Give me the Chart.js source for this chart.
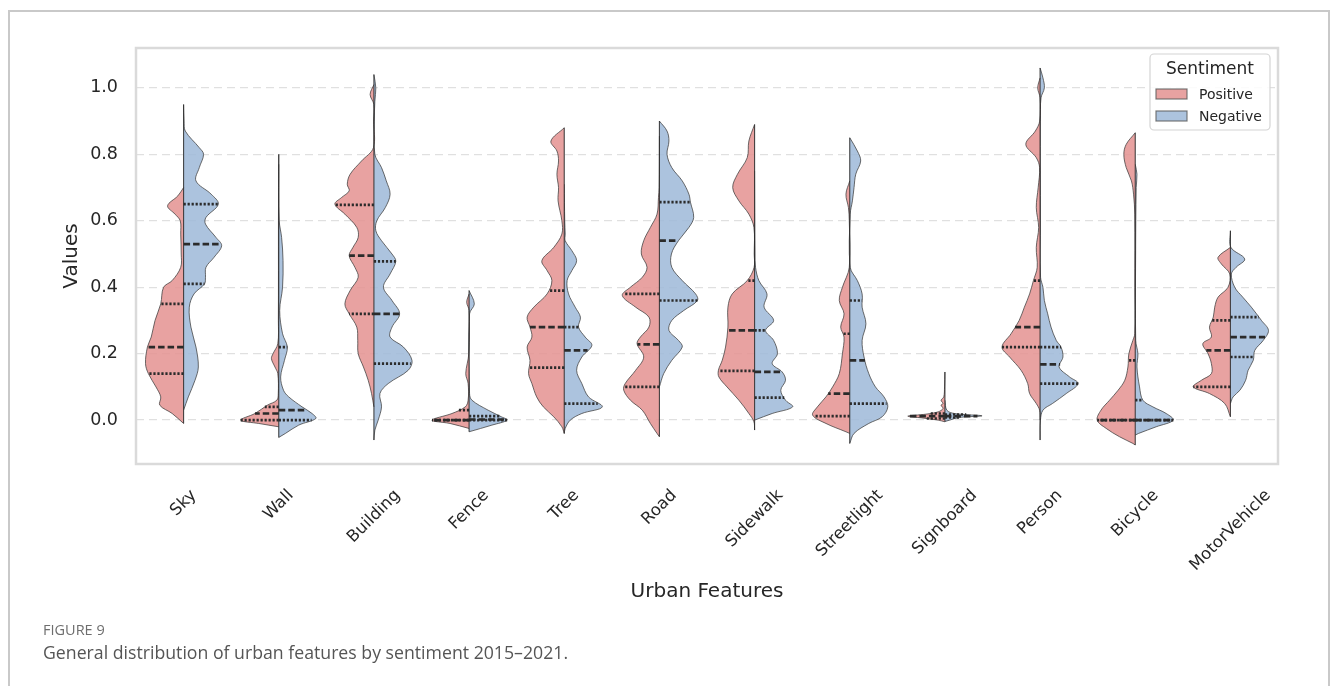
<!DOCTYPE html>
<html>
<head>
<meta charset="utf-8">
<script src="https://cdn.jsdelivr.net/npm/chart.js@4.4.1/dist/chart.umd.min.js"></script>
<style>
  html, body { margin: 0; padding: 0; background: #fff; width: 1333px; height: 686px; overflow: hidden; }
  #figure { position: absolute; left: 8px; top: 10px; width: 1322px; height: 700px; border: 2px solid #c9c9c9; border-bottom: none; box-sizing: border-box; }
  #chart { position: absolute; left: 0; top: 0; }
  .caption-label { position: absolute; left: 43px; top: 621px; font-family: "Open Sans", "Noto Sans", sans-serif; font-size: 14.5px; line-height: 18px; color: #6e6e6e; }
  .caption-text { position: absolute; left: 43px; top: 641px; font-family: "Open Sans", "Noto Sans", sans-serif; font-size: 17.7px; line-height: 23px; color: #555; }
</style>
</head>
<body>
<div id="figure"></div>
<canvas id="chart" width="1333" height="686"></canvas>
<div class="caption-label">FIGURE 9</div>
<div class="caption-text">General distribution of urban features by sentiment 2015–2021.</div>
<script>
// Urban feature categories on the x axis
const categories = ['Sky', 'Wall', 'Building', 'Fence', 'Tree', 'Road', 'Sidewalk', 'Streetlight', 'Signboard', 'Person', 'Bicycle', 'MotorVehicle'];
const sentiments = ['Positive', 'Negative'];
const yTicks = [0.0, 0.2, 0.4, 0.6, 0.8, 1.0];

// Density outlines: [value, half-width as a fraction of the category slot], from top to bottom
const skyPos = [[0.70,0],[0.675,0.06],[0.645,0.168],[0.62,0.09],[0.60,0.035],[0.56,0.03],[0.50,0.025],[0.46,0.03],[0.42,0.12],[0.40,0.21],[0.35,0.24],[0.30,0.30],[0.25,0.34],[0.22,0.38],[0.17,0.40],[0.14,0.37],[0.10,0.29],[0.07,0.24],[0.045,0.25],[0.02,0.12],[-0.01,0]];
const skyNeg = [[0.95,0],[0.90,0.005],[0.87,0.018],[0.82,0.165],[0.80,0.21],[0.76,0.165],[0.72,0.13],[0.68,0.29],[0.65,0.365],[0.61,0.235],[0.59,0.23],[0.55,0.34],[0.525,0.40],[0.49,0.32],[0.46,0.235],[0.43,0.23],[0.41,0.22],[0.38,0.11],[0.34,0.06],[0.28,0.077],[0.22,0.13],[0.16,0.155],[0.12,0.12],[0.07,0.05],[0.03,0]];
const wallPos = [[0.80,0],[0.60,0.003],[0.30,0.004],[0.23,0.01],[0.20,0.06],[0.185,0.077],[0.16,0.04],[0.14,0.01],[0.08,0.005],[0.06,0.02],[0.045,0.12],[0.02,0.25],[0.0,0.40],[-0.01,0.21],[-0.02,0]];
const wallNeg = [[0.77,0],[0.60,0.005],[0.55,0.03],[0.48,0.045],[0.40,0.04],[0.33,0.01],[0.26,0.04],[0.22,0.09],[0.18,0.06],[0.13,0.02],[0.09,0.05],[0.07,0.105],[0.04,0.245],[0.02,0.35],[0.005,0.39],[-0.015,0.21],[-0.04,0.07],[-0.052,0]];
const buildingPos = [[1.01,0],[0.98,0.04],[0.95,0],[0.90,0.003],[0.82,0.005],[0.78,0.13],[0.74,0.25],[0.71,0.28],[0.69,0.26],[0.67,0.34],[0.65,0.41],[0.62,0.305],[0.58,0.18],[0.55,0.165],[0.52,0.22],[0.495,0.26],[0.46,0.20],[0.43,0.165],[0.39,0.25],[0.35,0.305],[0.32,0.26],[0.28,0.18],[0.24,0.17],[0.20,0.165],[0.16,0.11],[0.12,0.06],[0.08,0.025],[0.04,0]];
const buildingNeg = [[1.04,0],[1.0,0.02],[0.96,0.01],[0.90,0.004],[0.80,0.01],[0.76,0.08],[0.72,0.13],[0.68,0.17],[0.64,0.12],[0.60,0.03],[0.57,0.02],[0.54,0.08],[0.50,0.19],[0.478,0.23],[0.44,0.17],[0.40,0.10],[0.36,0.19],[0.32,0.27],[0.28,0.19],[0.25,0.17],[0.22,0.31],[0.18,0.40],[0.15,0.36],[0.11,0.15],[0.08,0.063],[0.04,0.08],[0.0,0.045],[-0.03,0.01],[-0.06,0]];
const fencePos = [[0.38,0],[0.355,0.025],[0.33,0],[0.20,0.003],[0.14,0.035],[0.11,0.01],[0.06,0.01],[0.04,0.04],[0.02,0.18],[0.0,0.39],[-0.01,0.2],[-0.025,0]];
const fenceNeg = [[0.39,0],[0.35,0.055],[0.32,0.005],[0.08,0.005],[0.06,0.03],[0.03,0.2],[0.01,0.34],[0.0,0.40],[-0.015,0.24],[-0.035,0]];
const treePos = [[0.88,0],[0.84,0.14],[0.81,0.077],[0.78,0.06],[0.74,0.077],[0.70,0.06],[0.66,0.065],[0.60,0.025],[0.56,0.025],[0.52,0.11],[0.48,0.235],[0.45,0.18],[0.42,0.13],[0.38,0.18],[0.34,0.32],[0.31,0.39],[0.28,0.36],[0.25,0.34],[0.22,0.39],[0.18,0.36],[0.14,0.375],[0.11,0.34],[0.07,0.29],[0.04,0.22],[0.01,0.11],[-0.02,0.025],[-0.04,0]];
const treeNeg = [[0.71,0],[0.60,0.005],[0.56,0.01],[0.54,0.01],[0.51,0.08],[0.48,0.13],[0.45,0.08],[0.42,0.03],[0.38,0.045],[0.34,0.115],[0.31,0.17],[0.28,0.15],[0.25,0.22],[0.225,0.29],[0.19,0.185],[0.15,0.13],[0.11,0.185],[0.07,0.255],[0.04,0.40],[0.02,0.185],[0.0,0.063],[-0.025,0.01],[-0.04,0]];
const roadPos = [[0.855,0],[0.70,0.003],[0.67,0.01],[0.62,0.025],[0.58,0.095],[0.54,0.165],[0.50,0.19],[0.46,0.13],[0.43,0.18],[0.40,0.305],[0.375,0.39],[0.34,0.25],[0.31,0.11],[0.28,0.11],[0.25,0.2],[0.23,0.235],[0.19,0.165],[0.15,0.25],[0.11,0.36],[0.09,0.375],[0.06,0.305],[0.03,0.18],[-0.01,0.095],[-0.04,0.025],[-0.05,0]];
const roadNeg = [[0.90,0],[0.87,0.08],[0.84,0.1],[0.80,0.08],[0.76,0.13],[0.72,0.24],[0.68,0.31],[0.656,0.326],[0.61,0.36],[0.58,0.31],[0.54,0.2],[0.50,0.126],[0.46,0.13],[0.42,0.24],[0.38,0.38],[0.36,0.40],[0.33,0.256],[0.30,0.13],[0.27,0.1],[0.24,0.2],[0.22,0.24],[0.18,0.13],[0.14,0.045],[0.10,0]];
const sidewalkPos = [[0.89,0],[0.84,0.06],[0.79,0.077],[0.74,0.18],[0.70,0.23],[0.66,0.165],[0.62,0.06],[0.58,0.007],[0.50,0.004],[0.46,0.005],[0.42,0.077],[0.38,0.235],[0.34,0.28],[0.28,0.28],[0.22,0.305],[0.18,0.34],[0.15,0.38],[0.13,0.375],[0.10,0.29],[0.06,0.165],[0.02,0.06],[-0.005,0.007],[-0.03,0]];
const sidewalkNeg = [[0.75,0],[0.50,0.004],[0.46,0.01],[0.42,0.045],[0.38,0.13],[0.34,0.1],[0.30,0.2],[0.27,0.115],[0.24,0.2],[0.20,0.24],[0.17,0.185],[0.145,0.29],[0.12,0.325],[0.09,0.275],[0.06,0.325],[0.04,0.40],[0.02,0.185],[0.0,0]];
const streetlightPos = [[0.72,0],[0.68,0.04],[0.64,0.014],[0.60,0.005],[0.46,0.005],[0.40,0.077],[0.36,0.11],[0.32,0.06],[0.28,0.095],[0.25,0.06],[0.20,0.077],[0.14,0.11],[0.10,0.18],[0.07,0.25],[0.04,0.34],[0.015,0.39],[-0.01,0.25],[-0.035,0.04],[-0.04,0]];
const streetlightNeg = [[0.85,0],[0.81,0.08],[0.78,0.115],[0.74,0.063],[0.70,0.045],[0.66,0.028],[0.62,0.005],[0.46,0.005],[0.42,0.08],[0.38,0.13],[0.34,0.13],[0.29,0.17],[0.24,0.13],[0.19,0.15],[0.14,0.2],[0.10,0.27],[0.07,0.36],[0.04,0.40],[0.01,0.34],[-0.01,0.2],[-0.04,0.045],[-0.07,0]];
const signboardPos = [[0.145,0],[0.10,0.004],[0.07,0.012],[0.06,0.04],[0.05,0.02],[0.045,0.04],[0.035,0.02],[0.025,0.07],[0.018,0.2],[0.012,0.39],[0.006,0.22],[0.0,0.07],[-0.005,0]];
const signboardNeg = [[0.06,0],[0.03,0.02],[0.02,0.1],[0.013,0.39],[0.008,0.15],[0.0,0.05],[-0.004,0]];
const personPos = [[1.03,0],[1.0,0.025],[0.97,0],[0.90,0.004],[0.87,0.05],[0.83,0.15],[0.79,0.04],[0.76,0.005],[0.70,0.02],[0.64,0.04],[0.58,0.015],[0.52,0.04],[0.46,0.03],[0.42,0.07],[0.38,0.11],[0.34,0.165],[0.30,0.22],[0.26,0.305],[0.22,0.40],[0.19,0.32],[0.15,0.2],[0.11,0.13],[0.08,0.11],[0.05,0.04],[0.03,0.005],[0.0,0]];
const personNeg = [[1.06,0],[1.03,0.03],[1.0,0.045],[0.97,0.01],[0.90,0.003],[0.60,0.004],[0.43,0.005],[0.40,0.03],[0.36,0.045],[0.32,0.08],[0.28,0.115],[0.24,0.17],[0.22,0.22],[0.19,0.24],[0.16,0.2],[0.13,0.31],[0.11,0.40],[0.08,0.275],[0.05,0.13],[0.03,0.03],[0.0,0.004],[-0.06,0]];
const bicyclePos = [[0.865,0],[0.83,0.095],[0.80,0.12],[0.76,0.095],[0.72,0.04],[0.68,0.018],[0.62,0.005],[0.40,0.004],[0.26,0.005],[0.24,0.025],[0.20,0.067],[0.16,0.077],[0.12,0.11],[0.09,0.18],[0.06,0.27],[0.03,0.36],[0.0,0.40],[-0.025,0.305],[-0.05,0.165],[-0.07,0.025],[-0.075,0]];
const bicycleNeg = [[0.77,0],[0.74,0.018],[0.70,0.01],[0.50,0.004],[0.24,0.005],[0.20,0.028],[0.16,0.018],[0.10,0.045],[0.06,0.08],[0.04,0.185],[0.02,0.325],[0.0,0.40],[-0.02,0.22],[-0.04,0.035],[-0.045,0]];
const motorVehiclePos = [[0.52,0],[0.49,0.13],[0.47,0.095],[0.44,0.007],[0.40,0.025],[0.37,0.13],[0.34,0.165],[0.31,0.18],[0.28,0.22],[0.25,0.2],[0.23,0.29],[0.20,0.235],[0.17,0.2],[0.14,0.2],[0.12,0.305],[0.10,0.39],[0.08,0.22],[0.05,0.06],[0.01,0]];
const motorVehicleNeg = [[0.57,0],[0.52,0.005],[0.485,0.15],[0.46,0.06],[0.44,0.01],[0.40,0.045],[0.37,0.13],[0.34,0.22],[0.30,0.326],[0.27,0.40],[0.24,0.345],[0.21,0.256],[0.18,0.24],[0.15,0.186],[0.12,0.16],[0.09,0.1],[0.07,0.028],[0.05,0]];

// Quartiles [Q1, median, Q3] per category
const positiveQuartiles = [[0.14,0.22,0.35],[0.0,0.02,0.04],[0.32,0.495,0.648],[0.0,0.0,0.03],[0.158,0.28,0.39],[0.10,0.228,0.38],[0.148,0.27,0.42],[0.012,0.08,0.26],[0.005,0.012,0.02],[0.22,0.28,0.42],[0.0,0.0,0.18],[0.10,0.21,0.30]];
const negativeQuartiles = [[0.41,0.53,0.65],[0.0,0.03,0.22],[0.17,0.32,0.478],[0.0,0.002,0.012],[0.05,0.21,0.28],[0.36,0.54,0.656],[0.068,0.145,0.27],[0.05,0.18,0.36],[0.008,0.012,0.017],[0.11,0.168,0.22],[0.0,0.0,0.06],[0.19,0.25,0.31]];

const positiveProfiles = [skyPos, wallPos, buildingPos, fencePos, treePos, roadPos, sidewalkPos, streetlightPos, signboardPos, personPos, bicyclePos, motorVehiclePos];
const negativeProfiles = [skyNeg, wallNeg, buildingNeg, fenceNeg, treeNeg, roadNeg, sidewalkNeg, streetlightNeg, signboardNeg, personNeg, bicycleNeg, motorVehicleNeg];

const FILL_POS = 'rgba(228,146,144,0.85)';
const FILL_NEG = 'rgba(157,184,216,0.85)';
const EDGE = 'rgba(60,60,60,0.75)';
const TEXT = '#262626';
const FONT = 'DejaVu Sans';

// Half-width of a profile at a given value (linear between outline points)
function widthAt(profile, v) {
  if (v >= profile[0][0]) return profile[0][1];
  for (let k = 1; k < profile.length; k++) {
    const [v0, w0] = profile[k - 1];
    const [v1, w1] = profile[k];
    if (v <= v0 && v >= v1) {
      return v0 === v1 ? Math.max(w0, w1) : w0 + (w1 - w0) * (v0 - v) / (v0 - v1);
    }
  }
  return profile[profile.length - 1][1];
}

const datasets = [];
categories.forEach((name, i) => {
  const halves = [
    { profile: positiveProfiles[i], quart: positiveQuartiles[i], side: -1, fill: FILL_POS },
    { profile: negativeProfiles[i], quart: negativeQuartiles[i], side: 1, fill: FILL_NEG }
  ];
  let top = -Infinity, bottom = Infinity;
  halves.forEach(h => {
    top = Math.max(top, h.profile[0][0]);
    bottom = Math.min(bottom, h.profile[h.profile.length - 1][0]);
    // half violin body
    datasets.push({
      label: name + (h.side < 0 ? ' positive' : ' negative'),
      data: h.profile.map(([v, w]) => ({ x: i + h.side * w, y: v })),
      showLine: true, fill: 'shape', tension: 0.35,
      backgroundColor: h.fill, borderColor: EDGE, borderWidth: 1,
      pointRadius: 0, order: 3
    });
    // quartile lines: dotted Q1/Q3, dashed median
    h.quart.forEach((q, k) => {
      const w = widthAt(h.profile, q);
      datasets.push({
        label: name + ' quartile',
        data: [{ x: i, y: q }, { x: i + h.side * w, y: q }],
        showLine: true, fill: false, tension: 0,
        borderColor: '#2b2b2b', borderWidth: 2.7,
        borderDash: k === 1 ? [6.5, 3] : [2.2, 1.8], borderCapStyle: 'butt',
        pointRadius: 0, order: 1
      });
    });
  });
  // shared centre line of the split violin
  datasets.push({
    label: name + ' centre',
    data: [{ x: i, y: top }, { x: i, y: bottom }],
    showLine: true, fill: false, borderColor: 'rgba(40,40,40,0.85)', borderWidth: 1.1,
    pointRadius: 0, order: 2
  });
});

const extras = {
  id: 'violinExtras',
  afterDatasetsDraw(chart) {
    const { ctx, chartArea: a } = chart;
    ctx.save();
    ctx.strokeStyle = '#dadada';
    ctx.lineWidth = 2.5;
    ctx.strokeRect(a.left, a.top, a.right - a.left, a.bottom - a.top);
    ctx.restore();
  },
  afterDraw(chart) {
    const { ctx, chartArea: a, scales } = chart;
    // rotated category labels, centred under each slot
    const size = 16.5;
    ctx.save();
    ctx.font = size + 'px "' + FONT + '"';
    ctx.fillStyle = TEXT;
    ctx.textAlign = 'center';
    ctx.textBaseline = 'middle';
    categories.forEach((name, i) => {
      const px = scales.x.getPixelForValue(i);
      const w = ctx.measureText(name).width;
      const side = (w + size * 1.17) * Math.SQRT1_2;
      const cy = a.bottom + 22 + side / 2;
      ctx.save();
      ctx.translate(px, cy);
      ctx.rotate(-Math.PI / 4);
      ctx.fillText(name, 0, 0);
      ctx.restore();
    });
    ctx.restore();

    // legend box
    const right = a.right - 8, top = a.top + 6, bw = 120, bh = 76, left = right - bw;
    ctx.save();
    ctx.beginPath();
    ctx.roundRect(left, top, bw, bh, 4);
    ctx.fillStyle = 'rgba(255,255,255,0.85)';
    ctx.fill();
    ctx.strokeStyle = '#d4d4d4';
    ctx.lineWidth = 1.2;
    ctx.stroke();
    ctx.fillStyle = TEXT;
    ctx.textAlign = 'center';
    ctx.textBaseline = 'middle';
    ctx.font = '17px "' + FONT + '"';
    ctx.fillText('Sentiment', left + bw / 2, top + 16);
    ctx.font = '14px "' + FONT + '"';
    ctx.textAlign = 'left';
    [FILL_POS, FILL_NEG].forEach((c, k) => {
      const cy = top + 40 + k * 22;
      ctx.fillStyle = c;
      ctx.fillRect(left + 6, cy - 5, 31, 10);
      ctx.strokeStyle = 'rgba(90,90,90,0.8)';
      ctx.lineWidth = 1.2;
      ctx.strokeRect(left + 6, cy - 5, 31, 10);
      ctx.fillStyle = TEXT;
      ctx.fillText(sentiments[k], left + 49, cy + 1);
    });
    ctx.restore();
  }
};

new Chart(document.getElementById('chart'), {
  type: 'scatter',
  data: { datasets },
  plugins: [extras],
  options: {
    responsive: false,
    animation: false,
    events: [],
    layout: { padding: { left: 0, top: 48, right: 55, bottom: 72 } },
    plugins: { legend: { display: false }, tooltip: { enabled: false } },
    scales: {
      x: {
        type: 'linear', min: -0.5, max: 11.5,
        grid: { display: false }, border: { display: false },
        ticks: { display: false },
        title: { display: true, text: 'Urban Features', color: TEXT, font: { family: FONT, size: 20 }, padding: { top: 0, bottom: 10 } },
        afterFit: s => { s.height = 150; }
      },
      y: {
        type: 'linear', min: -0.132, max: 1.12,
        afterBuildTicks: s => { s.ticks = yTicks.map(v => ({ value: v })); },
        ticks: { callback: v => Number(v).toFixed(1), color: TEXT, font: { family: FONT, size: 17.5 }, padding: 18 },
        grid: { color: 'rgba(0,0,0,0.12)', lineWidth: 1.3, drawTicks: false },
        border: { display: false, dash: [8, 5] },
        title: { display: true, text: 'Values', color: TEXT, font: { family: FONT, size: 20 }, padding: { top: 60, bottom: 0 } },
        afterFit: s => { s.width = 136; }
      }
    }
  }
});
</script>
</body>
</html>
